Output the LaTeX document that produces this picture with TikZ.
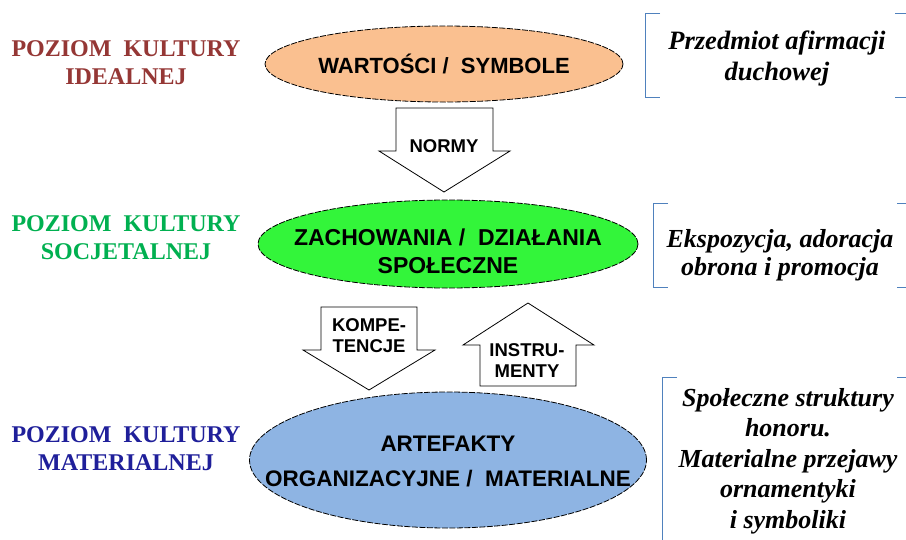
\documentclass[tikz,border=0pt]{standalone}
\usepackage{fontspec}
\setmainfont{Liberation Serif}
\newfontfamily\arialf{Liberation Sans}
\usetikzlibrary{shapes.geometric}
\definecolor{lvred}{HTML}{953735}
\definecolor{lvgreen}{HTML}{00B050}
\definecolor{lvblue}{HTML}{1F1F9A}
\definecolor{ovorange}{HTML}{FAC090}
\definecolor{ovgreen}{HTML}{33F53A}
\definecolor{ovblue}{HTML}{8EB4E3}
\definecolor{brk}{HTML}{4F81BD}
\begin{document}
\begin{tikzpicture}[x=1pt,y=-1pt,
  lvl/.style={align=center,inner sep=0pt,font=\bfseries\fontsize{24}{28}\selectfont},
  oval/.style={ellipse,draw=black,line width=0.8pt,dash pattern=on 6pt off 1.5pt,inner sep=0pt},
  ovaltext/.style={align=center,inner sep=0pt,font=\arialf\bfseries},
  blockarrow/.style={draw=black,line width=0.8pt,fill=white,line join=miter},
  arrtext/.style={align=center,inner sep=0pt,font=\arialf\bfseries\fontsize{18.5}{21}\selectfont},
  note/.style={align=center,inner sep=0pt,font=\bfseries\itshape},
  bracket/.style={draw=brk,line width=0.9pt}]
\useasboundingbox (0,0) rectangle (906,539);
\fill[white] (0,0) rectangle (906,539);

% level labels
\node[lvl,text=lvred]   (l1) at (126,63)  {POZIOM\ \ KULTURY\\IDEALNEJ};
\node[lvl,text=lvgreen] (l2) at (126,238) {POZIOM\ \ KULTURY\\SOCJETALNEJ};
\node[lvl,text=lvblue]  (l3) at (126,449) {POZIOM\ \ KULTURY\\MATERIALNEJ};

% ellipses
\node[oval,fill=ovorange,minimum width=358pt,minimum height=76pt] (e1) at (444,64) {};
\node[oval,fill=ovgreen,minimum width=380pt,minimum height=88pt] (e2) at (448,244) {};
\node[oval,fill=ovblue,minimum width=397pt,minimum height=136pt] (e3) at (448,460) {};
\node[ovaltext,font=\arialf\bfseries\fontsize{22}{28}\selectfont] (t1) at (444,64) {WARTOŚCI /\ \ SYMBOLE};
\node[ovaltext,font=\arialf\bfseries\fontsize{23}{28}\selectfont] (t2) at (448,251) {ZACHOWANIA /\ \ DZIAŁANIA\\SPOŁECZNE};
\node[ovaltext,font=\arialf\bfseries\fontsize{22.5}{35}\selectfont] (t3) at (448,461) {ARTEFAKTY\\ORGANIZACYJNE /\ \ MATERIALNE};

% block arrows
\draw[blockarrow] (396,108) -- (493,108) -- (493,151) -- (510,151) -- (444,192) -- (379,151) -- (396,151) -- cycle;
\node[arrtext] (a1) at (444,146) {NORMY};
\draw[blockarrow] (321,307) -- (417,307) -- (417,350) -- (435,350) -- (369,390) -- (303,350) -- (321,350) -- cycle;
\node[arrtext] (a2) at (369,336) {KOMPE-\\TENCJE};
\draw[blockarrow] (480,386) -- (576,386) -- (576,345) -- (594,345) -- (528,303) -- (463,345) -- (480,345) -- cycle;
\node[arrtext] (a3) at (527,361) {INSTRU-\\MENTY};

% notes
\node[note,font=\bfseries\itshape\fontsize{26.5}{31}\selectfont] (n1) at (777,58) {Przedmiot afirmacji\\duchowej};
\node[note,font=\bfseries\itshape\fontsize{26}{28}\selectfont] (n2) at (780,255) {Ekspozycja, adoracja\\obrona i promocja};
\node[note,font=\bfseries\itshape\fontsize{26}{30.5}\selectfont] (n3) at (788,461) {Społeczne struktury\\honoru.\\Materialne przejawy\\ornamentyki\\i symboliki};

% brackets
\draw[bracket] (660,13) -- (645,13) -- (645,97) -- (660,97);
\draw[bracket] (895,13) -- (906,13);
\draw[bracket] (895,97) -- (906,97);
\draw[bracket] (668,203) -- (653,203) -- (653,287) -- (668,287);
\draw[bracket] (897,203) -- (906,203);
\draw[bracket] (897,287) -- (906,287);
\draw[bracket] (677,377) -- (662,377) -- (662,545);
\draw[bracket] (897,377) -- (906,377);
\end{tikzpicture}
\end{document}
